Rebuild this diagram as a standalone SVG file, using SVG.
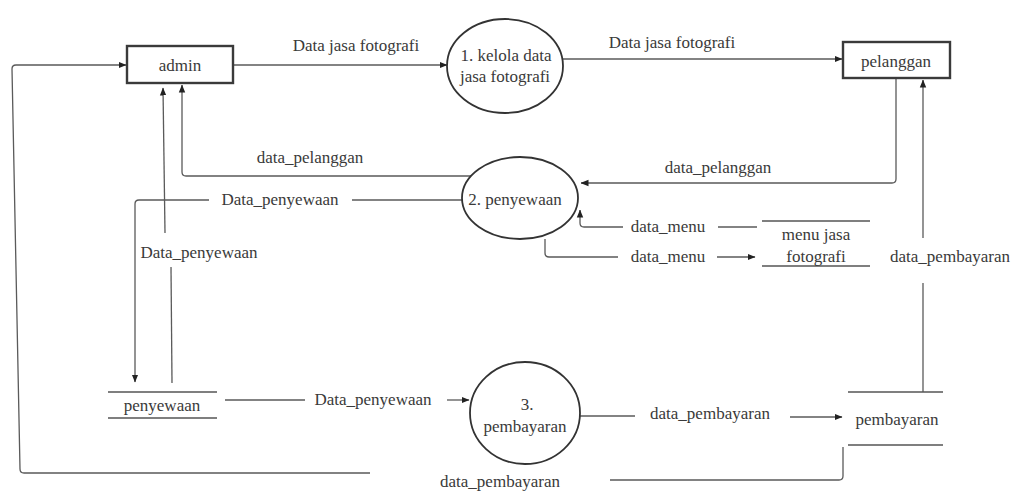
<svg xmlns="http://www.w3.org/2000/svg" width="1015" height="492" viewBox="0 0 1015 492">
<style>
text{font-size:17px;fill:#3a3a3a;text-anchor:middle}
.ent{fill:#fff;stroke:#3a3a3a;stroke-width:2.4}
.proc{fill:#fff;stroke:#333;stroke-width:1.8}
.store{stroke:#555;stroke-width:1.3;fill:none}
.c{fill:none;stroke:#5a5a5a;stroke-width:1.3}
.a{marker-end:url(#arr)}
</style>
<defs>
<marker id="arr" viewBox="0 0 8 8" refX="7.5" refY="4" markerWidth="8" markerHeight="8" markerUnits="userSpaceOnUse" orient="auto">
<path d="M0,0.8 L8,4 L0,7.2 Z" fill="#222"/>
</marker>
</defs>
<rect width="1015" height="492" fill="#fff"/>
<g font-family="'Liberation Serif', 'Times New Roman', Tinos, 'Noto Serif', 'DejaVu Serif', FreeSerif, serif">
<g id="connectors">
<path class="c a" d="M233,65 H447"/>
<path class="c a" d="M563,59 H842"/>
<path class="c a" d="M896,78 V179 Q896,183 892,183 H581"/>
<path class="c a" d="M471,176 H186 Q182,176 182,172 V85"/>
<path class="c" d="M462,200 H352"/>
<path class="c a" d="M209,200 H139 Q135,200 135,204 V382"/>
<path class="c" d="M172,383 L171,267"/>
<path class="c a" d="M165,233 L163,88"/>
<path class="c" d="M757,227 H718"/>
<path class="c a" d="M623,227 H584 Q580,227 580,223 V210"/>
<path class="c" d="M545,239 V253 Q545,257 549,257 H618"/>
<path class="c a" d="M717,257 H755"/>
<path class="c" d="M923,392 V283"/>
<path class="c a" d="M923,238 V80"/>
<path class="c" d="M225,400 H305"/>
<path class="c a" d="M447,400 H469"/>
<path class="c" d="M580,416 H635"/>
<path class="c a" d="M790,417 H842"/>
<path class="c" d="M843,447 V476 Q843,480 839,480 H610"/>
<path class="c a" d="M370,473 H24 Q20,473 20,469 L12,69 Q12,65 16,65 H126"/>
</g>

<g id="labels">
<text x="356" y="51">Data jasa fotografi</text>
<text x="672" y="48">Data jasa fotografi</text>
<text x="310" y="163">data_pelanggan</text>
<text x="718" y="173">data_pelanggan</text>
<text x="280" y="205">Data_penyewaan</text>
<text x="199" y="258">Data_penyewaan</text>
<text x="668" y="232">data_menu</text>
<text x="668" y="262">data_menu</text>
<text x="950" y="262">data_pembayaran</text>
<text x="373" y="405">Data_penyewaan</text>
<text x="710" y="419">data_pembayaran</text>
<text x="500" y="487">data_pembayaran</text>
</g>

<g id="admin">
<rect class="ent" x="127" y="46" width="106" height="37"/>
<text x="180" y="71">admin</text>
</g>

<g id="pelanggan">
<rect class="ent" x="843" y="42" width="107" height="36"/>
<text x="896" y="67">pelanggan</text>
</g>

<g id="p1">
<ellipse class="proc" cx="505" cy="66" rx="58" ry="47"/>
<text x="506" y="61">1. kelola data</text>
<text x="505" y="82">jasa fotografi</text>
</g>

<g id="p2">
<ellipse class="proc" cx="520" cy="198" rx="58" ry="41"/>
<text x="515" y="205">2. penyewaan</text>
</g>

<g id="p3">
<ellipse class="proc" cx="525" cy="413" rx="55" ry="51"/>
<text x="527" y="410">3.</text>
<text x="525" y="432">pembayaran</text>
</g>

<g id="store-menu">
<line class="store" x1="762" y1="221" x2="870" y2="221"/>
<line class="store" x1="762" y1="266" x2="870" y2="266"/>
<text x="816" y="240">menu jasa</text>
<text x="816" y="262">fotografi</text>
</g>

<g id="store-penyewaan">
<line class="store" x1="108" y1="392" x2="217" y2="392"/>
<line class="store" x1="108" y1="418" x2="217" y2="418"/>
<text x="162" y="411">penyewaan</text>
</g>

<g id="store-pembayaran">
<line class="store" x1="848" y1="392" x2="943" y2="392"/>
<line class="store" x1="848" y1="445" x2="943" y2="445"/>
<text x="897" y="425">pembayaran</text>
</g>
</g>
</svg>
